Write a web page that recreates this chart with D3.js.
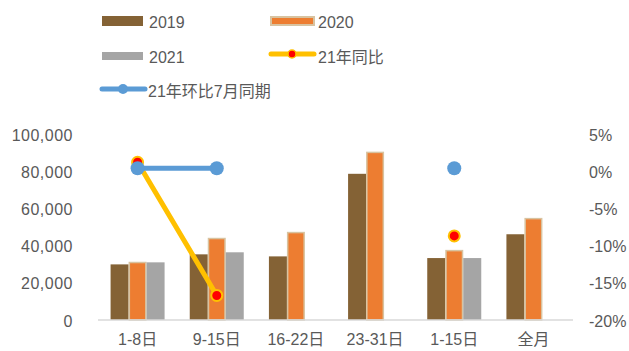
<!DOCTYPE html>
<html>
<head>
<meta charset="utf-8">
<script src="https://cdn.jsdelivr.net/npm/d3@7"></script>
<style>
  html, body { margin: 0; padding: 0; background: #fff; }
  svg { display: block; }
  text { font-family: "Liberation Sans", "Noto Sans CJK SC", sans-serif; fill: #595959; }
</style>
</head>
<body>
<svg id="chart" width="629" height="351"></svg>
<script>
// Categories and series
const categories = ["1-8日", "9-15日", "16-22日", "23-31日", "1-15日", "全月"];
const seriesNames = ["2019", "2020", "2021"];
const values2019 = [29900, 35300, 34200, 78600, 33300, 46100];
const values2020 = [30900, 43800, 47000, 90100, 37300, 54500];
const values2021 = [31000, 36400, null, null, 33300, null];
const yoy2021 = [0.012, -0.167, null, null, -0.087, null];   // 21年同比
const momJuly = [0.004, 0.004, null, null, 0.004, null];     // 21年环比7月同期
const leftTicks = [0, 20000, 40000, 60000, 80000, 100000];
const rightTicks = [-0.20, -0.15, -0.10, -0.05, 0, 0.05];

const colors = { "2019": "#846235", "2020": "#ED7D31", "2021": "#A5A5A5" };
const border2020 = "#D8C3A0";
const yellow = "#FFC000", red = "#FF0000", blue = "#5B9BD5";
const FONT = "Liberation Sans, Noto Sans CJK SC, sans-serif";

const svg = d3.select("#chart");

const x = d3.scaleBand().domain(categories).range([98, 573]).padding(0);
const groupW = 54;
const xs = d3.scaleBand().domain(seriesNames).range([0, groupW]).padding(0);
const yL = d3.scaleLinear().domain([0, 100000]).range([320, 134]);
const yR = d3.scaleLinear().domain([-0.20, 0.05]).range([320, 134]);

// Left axis labels
const fmtL = d => d3.format(",")(d);
const leftAxis = d3.axisLeft(yL).tickValues(leftTicks).tickFormat(fmtL).tickSize(0).tickPadding(0);
const gL = svg.append("g").attr("transform", "translate(73,1)").call(leftAxis);
gL.select(".domain").remove();
gL.selectAll("text").style("font-size", "16px").style("fill", "#595959").style("font-family", FONT).attr("letter-spacing", "0.5px");

// Right axis labels
const fmtR = d => d3.format(".0%")(d).replace("−", "-");
const rightAxis = d3.axisRight(yR).tickValues(rightTicks).tickFormat(fmtR).tickSize(0).tickPadding(0);
const gR = svg.append("g").attr("transform", "translate(589,1)").call(rightAxis);
gR.select(".domain").remove();
gR.selectAll("text").style("font-size", "16px").style("fill", "#595959").style("font-family", FONT);

// Bars
const barData = [];
const seriesValues = { "2019": values2019, "2020": values2020, "2021": values2021 };
seriesNames.forEach(s => {
  categories.forEach((c, i) => {
    const v = seriesValues[s][i];
    if (v != null) barData.push({ s, c, v });
  });
});
const groupStart = c => x(c) + x.bandwidth() / 2 - groupW / 2;
svg.append("g").selectAll("rect").data(barData).join("rect")
  .attr("x", d => groupStart(d.c) + xs(d.s) + (d.s === "2020" ? 0.75 : 0))
  .attr("width", d => xs.bandwidth() - (d.s === "2020" ? 1.5 : 0))
  .attr("y", d => yL(d.v))
  .attr("height", d => yL(0) - yL(d.v))
  .attr("fill", d => colors[d.s])
  .attr("stroke", d => d.s === "2020" ? border2020 : "none")
  .attr("stroke-width", 1.5);

// Baseline
svg.append("line")
  .attr("x1", 98).attr("x2", 573)
  .attr("y1", yL(0)).attr("y2", yL(0))
  .attr("stroke", "#D9D9D9").attr("stroke-width", 1.5);

// Category labels
const xAxis = d3.axisBottom(x).tickSize(0).tickPadding(0);
const gX = svg.append("g").attr("transform", "translate(0,334)").call(xAxis);
gX.select(".domain").remove();
gX.selectAll("text").style("font-size", "16px").style("fill", "#595959").style("font-family", FONT);

// Lines on the right axis
const cx = i => x(categories[i]) + x.bandwidth() / 2;

svg.append("path").datum(yoy2021)
  .attr("d", d3.line().defined(d => d != null).x((d, i) => cx(i)).y(d => yR(d)))
  .attr("fill", "none").attr("stroke", yellow).attr("stroke-width", 5).attr("stroke-linecap", "round");
svg.append("g").selectAll("circle").data(yoy2021.map((v, i) => ({ v, i })).filter(d => d.v != null)).join("circle")
  .attr("cx", d => cx(d.i)).attr("cy", d => yR(d.v)).attr("r", 5.5)
  .attr("fill", red).attr("stroke", yellow).attr("stroke-width", 2);

svg.append("path").datum(momJuly)
  .attr("d", d3.line().defined(d => d != null).x((d, i) => cx(i)).y(d => yR(d)))
  .attr("fill", "none").attr("stroke", blue).attr("stroke-width", 5).attr("stroke-linecap", "round");
svg.append("g").selectAll("circle").data(momJuly.map((v, i) => ({ v, i })).filter(d => d.v != null)).join("circle")
  .attr("cx", d => cx(d.i)).attr("cy", d => yR(d.v)).attr("r", 7)
  .attr("fill", blue);

// Legend
const legend = svg.append("g");
const legText = (lx, ly, t) => legend.append("text").attr("x", lx).attr("y", ly)
  .attr("dy", "0.35em").style("font-size", "16px").text(t);

legend.append("rect").attr("x", 102).attr("y", 16).attr("width", 41).attr("height", 10).attr("fill", colors["2019"]);
legText(149, 22, "2019");
legend.append("rect").attr("x", 271).attr("y", 17).attr("width", 43).attr("height", 8)
  .attr("fill", colors["2020"]).attr("stroke", border2020).attr("stroke-width", 2);
legText(318, 22, "2020");
legend.append("rect").attr("x", 102).attr("y", 52).attr("width", 41).attr("height", 8).attr("fill", colors["2021"]);
legText(149, 57, "2021");
legend.append("line").attr("x1", 271).attr("x2", 314).attr("y1", 54).attr("y2", 54)
  .attr("stroke", yellow).attr("stroke-width", 5).attr("stroke-linecap", "round");
legend.append("circle").attr("cx", 292).attr("cy", 54).attr("r", 4).attr("fill", red).attr("stroke", yellow).attr("stroke-width", 1.5);
legText(318, 57, "21年同比");
legend.append("line").attr("x1", 102).attr("x2", 145).attr("y1", 89).attr("y2", 89)
  .attr("stroke", blue).attr("stroke-width", 5).attr("stroke-linecap", "round");
legend.append("circle").attr("cx", 123).attr("cy", 89).attr("r", 5).attr("fill", blue);
legText(148, 91, "21年环比7月同期");
</script>
</body>
</html>
